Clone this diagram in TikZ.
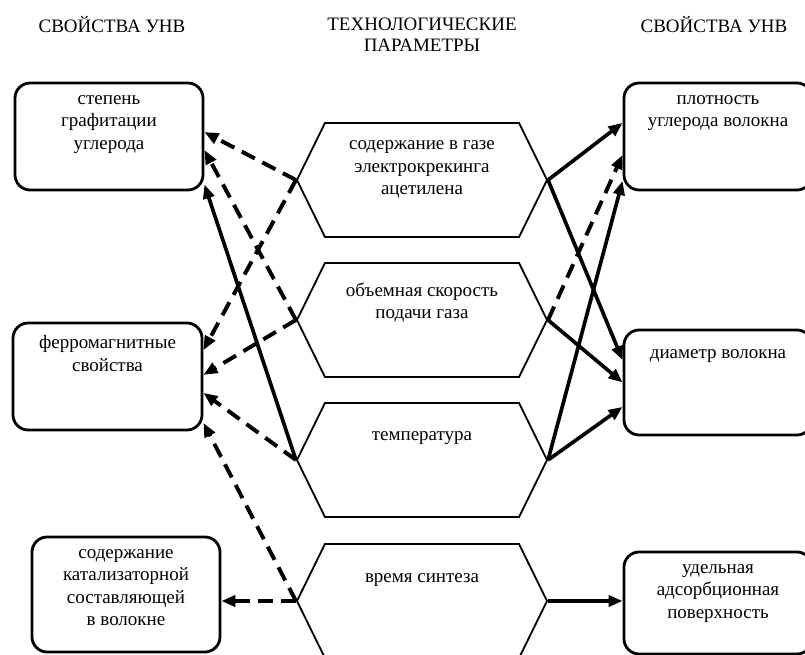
\documentclass[tikz,border=0pt]{standalone}
\usepackage{fontspec}
\setmainfont{Liberation Serif}
\usetikzlibrary{arrows.meta,positioning,shapes.symbols}

\tikzset{
  propbox/.style={draw,rounded corners=0.38cm,line width=2pt,inner sep=0pt,
    minimum width=4.7cm,minimum height=2.675cm},
  hexbox/.style={draw,signal,signal to=west and east,signal pointer angle=127.7,
    line width=1.3pt,inner sep=0pt,minimum width=6.25cm,minimum height=2.85cm},
  lbl/.style={align=center,inner sep=0pt,font=\fontsize{13.5}{16}\selectfont,
    execute at begin node=\strut},
  head/.style={align=center,inner sep=0pt,font=\fontsize{13.5}{15}\selectfont},
  link/.style={line width=2.6pt,-{Triangle[length=10pt,width=8pt]}},
  dlink/.style={link,line width=2.8pt,dash pattern=on 10.5pt off 6pt},
}

\begin{document}
\begin{tikzpicture}[x=0.025cm,y=-0.025cm]
\useasboundingbox (0,0) rectangle (805,655);

% headings
\node[head] (headl) at (112,25) {СВОЙСТВА УНВ};
\node[head] (headm) at (422,35) {ТЕХНОЛОГИЧЕСКИЕ\\ПАРАМЕТРЫ};
\node[head] (headr) at (714,25) {СВОЙСТВА УНВ};

% left column
\node[propbox] (grafit) at (109,136.5) {};
\node[lbl,below=0.34cm of grafit.north] (grafit-t) {степень\\графитации\\углерода};
\node[propbox,minimum width=4.725cm] (ferro) at (107.5,376.5) {};
\node[lbl,below=0.34cm of ferro.north] (ferro-t) {ферромагнитные\\свойства};
\node[propbox,minimum height=2.875cm] (catal) at (126,594.5) {};
\node[lbl,below=0.34cm of catal.north] (catal-t) {содержание\\катализаторной\\составляющей\\в волокне};

% process parameters
\node[hexbox] (acet) at (422,180) {};
\node[lbl,below=0.46cm of acet.north] (acet-t) {содержание в газе\\электрокрекинга\\ацетилена};
\node[hexbox] (speed) at (422,320) {};
\node[lbl,below=0.51cm of speed.north] (speed-t) {объемная скорость\\подачи газа};
\node[hexbox] (temp) at (422,460) {};
\node[lbl,below=0.56cm of temp.north] (temp-t) {температура};
\node[hexbox] (synth) at (422,601) {};
\node[lbl,below=0.58cm of synth.north] (synth-t) {время синтеза};

% right column
\node[propbox] (dens) at (718,136.5) {};
\node[lbl,below=0.34cm of dens.north] (dens-t) {плотность\\углерода волокна};
\node[propbox,minimum height=2.625cm] (diam) at (718,382.5) {};
\node[lbl,below=0.34cm of diam.north] (diam-t) {диаметр волокна};
\node[propbox,minimum height=2.55cm] (surf) at (718,603) {};
\node[lbl,below=0.34cm of surf.north] (surf-t) {удельная\\адсорбционная\\поверхность};

% links to the left
\draw[dlink] (acet.west) -- ([yshift=0.11cm]grafit.east);
\draw[dlink] (speed.west) -- ([yshift=-0.34cm]grafit.east);
\draw[link] (temp.west) -- ([yshift=-1.2cm]grafit.east);
\draw[dlink] (acet.west) -- ([yshift=0.66cm]ferro.east);
\draw[dlink] (speed.west) -- ([yshift=0.04cm]ferro.east);
\draw[dlink] (temp.west) -- ([yshift=-0.41cm]ferro.east);
\draw[dlink] (synth.west) -- ([yshift=-1.16cm]ferro.east);
\draw[dlink] (synth.west) -- (synth.west -| catal.east);

% links to the right
\draw[link] (acet.east) -- ([yshift=0.34cm]dens.west);
\draw[dlink] (speed.east) -- ([yshift=-0.46cm]dens.west);
\draw[link] (temp.east) -- ([yshift=-1.11cm]dens.west);
\draw[link] (acet.east) -- ([yshift=0.56cm]diam.west);
\draw[link] (speed.east) -- (diam.west);
\draw[link] (temp.east) -- ([yshift=-0.61cm]diam.west);
\draw[link] (synth.east) -- (synth.east -| surf.west);
\end{tikzpicture}
\end{document}
